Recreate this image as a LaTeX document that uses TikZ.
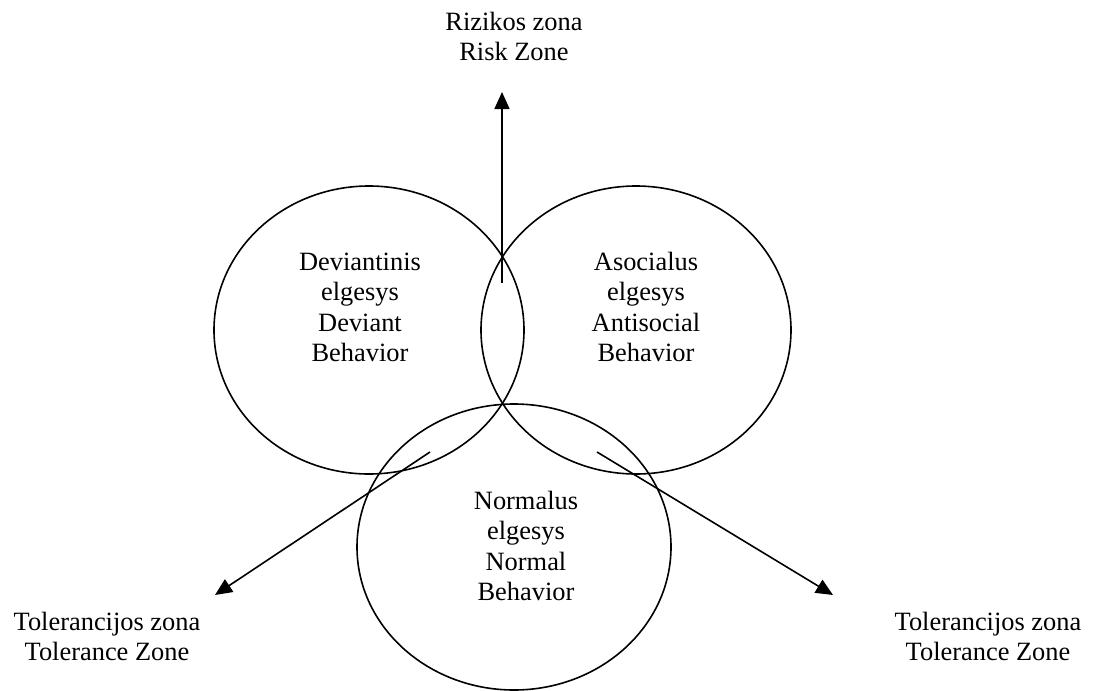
\documentclass[tikz,border=0pt]{standalone}
\usepackage{fontspec}
\setmainfont{Liberation Serif}
\usetikzlibrary{arrows.meta,shapes.geometric}
\begin{document}
\begin{tikzpicture}[x=1pt,y=-1pt,
  ring/.style={ellipse,draw,line width=1.6pt,inner sep=0pt},
  lbl/.style={align=center,inner sep=0pt,text depth=0pt,anchor=south,
    font=\fontsize{26.4pt}{30.5pt}\selectfont},
  arr/.style={line width=1.6pt,-{Triangle[length=17pt,width=15pt]}}]
\useasboundingbox (0,0) rectangle (1093,691);
\node[ring,minimum width=310pt,minimum height=288pt] (dev) at (369,330) {};
\node[ring,minimum width=310pt,minimum height=288pt] (aso) at (636,330) {};
\node[ring,minimum width=314pt,minimum height=286pt] (nor) at (514,547) {};
\node[lbl] (devt) at (360,362) {Deviantinis\\elgesys\\Deviant\\Behavior};
\node[lbl] (asot) at (646,362) {Asocialus\\elgesys\\Antisocial\\Behavior};
\node[lbl] (nort) at (526,601) {Normalus\\elgesys\\Normal\\Behavior};
\node[lbl] (risk) at (514,61) {Rizikos zona\\Risk Zone};
\node[lbl] (tolL) at (107,661) {Tolerancijos zona\\Tolerance Zone};
\node[lbl] (tolR) at (988,661) {Tolerancijos zona\\Tolerance Zone};
\coordinate (s1) at (502,283);
\coordinate (e1) at (502,92);
\coordinate (s2) at (430,452);
\coordinate (e2) at (215,595);
\coordinate (s3) at (597,452);
\coordinate (e3) at (833,595);
\draw[arr] (s1) -- (e1);
\draw[arr] (s2) -- (e2);
\draw[arr] (s3) -- (e3);
\end{tikzpicture}
\end{document}
